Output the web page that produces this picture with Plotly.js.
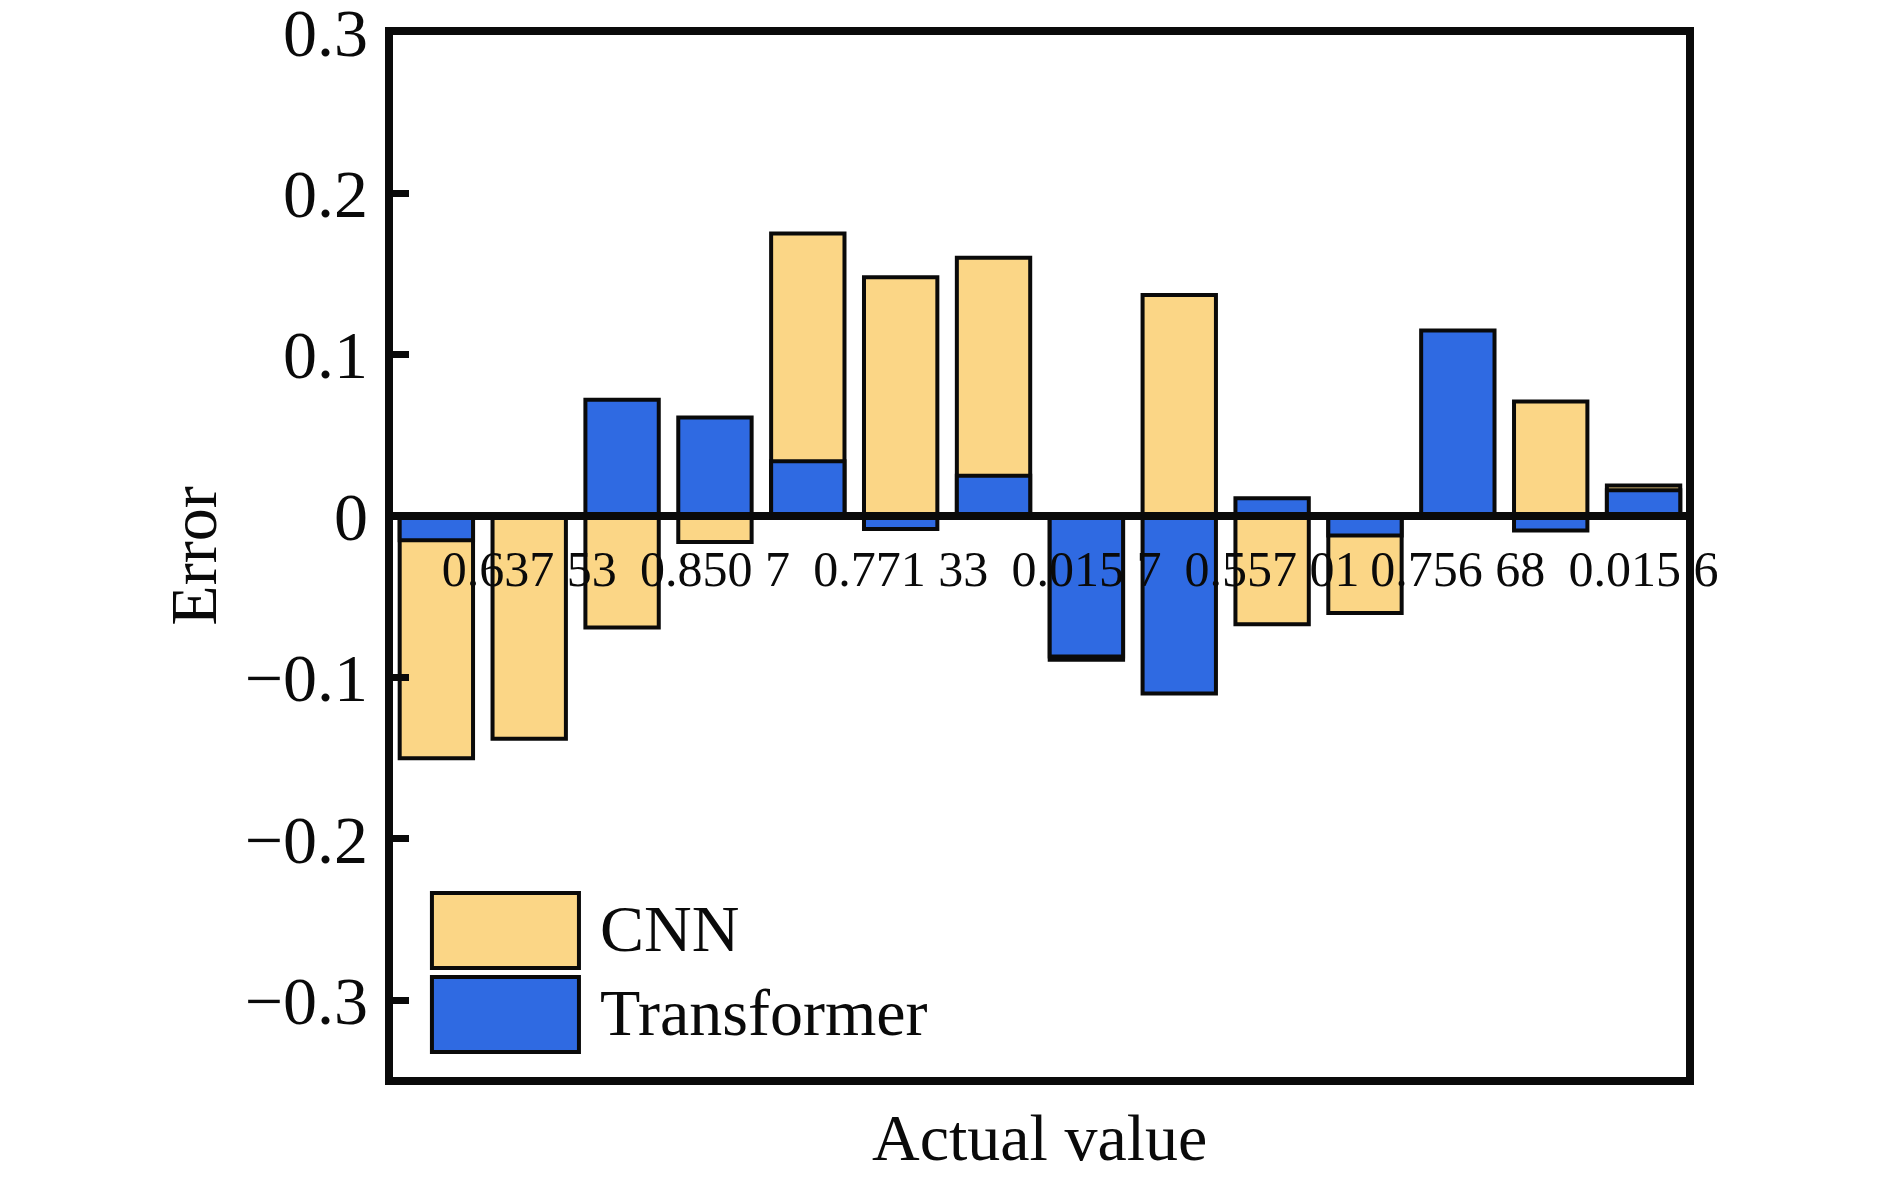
<!DOCTYPE html>
<html>
<head>
<meta charset="utf-8">
<script src="https://cdn.plot.ly/plotly-3.0.1.min.js"></script>
<style>
  html, body { margin: 0; padding: 0; background: #fff; }
  #chart { width: 1890px; height: 1182px; }
</style>
</head>
<body>
<div id="chart"></div>
<script>
// sample index along the x axis
var samples = [1, 2, 3, 4, 5, 6, 7, 8, 9, 10, 11, 12, 13, 14];
// only every other actual value is printed on the axis
var tickLabels = ['', '0.637 53', '', '0.850 7', '', '0.771 33', '', '0.015 7', '', '0.557 01', '', '0.756 68', '', '0.015 6'];

var cnnError = [-0.150, -0.138, -0.069, -0.016, 0.175, 0.148, 0.160, -0.089, 0.137, -0.067, -0.060, 0, 0.071, 0.019];
var transformerError = [-0.015, 0, 0.072, 0.061, 0.034, -0.008, 0.025, -0.087, -0.110, 0.011, -0.012, 0.115, -0.009, 0.016];

var yMin = -0.35, yMax = 0.3;
var serif = '"Liberation Serif", "Times New Roman", serif';
var cnnColor = '#FBD686';
var transColor = '#2F6AE2';

var data = [
    {
        type: 'bar',
        name: 'CNN',
        x: samples,
        y: cnnError,
        marker: { color: cnnColor, line: { color: '#0a0a0a', width: 4 } },
        showlegend: false
    },
    {
        type: 'bar',
        name: 'Transformer',
        x: samples,
        y: transformerError,
        marker: { color: transColor, line: { color: '#0a0a0a', width: 4 } },
        showlegend: false
    }
];

var layout = {
    width: 1890,
    height: 1182,
    margin: { l: 389, r: 200, t: 31, b: 101 },
    paper_bgcolor: '#fff',
    plot_bgcolor: '#fff',
    barmode: 'overlay',
    bargap: 0.21,
    font: { family: serif, color: '#0a0a0a' },
    xaxis: {
        range: [0.49, 14.5],
        anchor: 'free',
        position: -yMin / (yMax - yMin),
        tickmode: 'array',
        tickvals: samples,
        ticktext: tickLabels,
        tickangle: 0,
        ticks: '',
        ticklabelstandoff: 6,
        tickfont: { family: serif, size: 50, color: '#0a0a0a' },
        showline: true,
        linecolor: '#0a0a0a',
        linewidth: 8,
        showgrid: false,
        zeroline: false
    },
    yaxis: {
        // a hair above 0.3 so the top tick label is kept
        range: [yMin, yMax + 0.0005],
        tickvals: [-0.3, -0.2, -0.1, 0, 0.1, 0.2, 0.3],
        ticktext: ['\u22120.3', '\u22120.2', '\u22120.1', '0', '0.1', '0.2', '0.3'],
        ticks: 'inside',
        ticklen: 20,
        tickwidth: 7,
        tickcolor: '#0a0a0a',
        ticklabelstandoff: 20,
        ticklabeloverflow: 'allow',
        tickfont: { family: serif, size: 68, color: '#0a0a0a' },
        showline: false,
        showgrid: false,
        zeroline: false,
        title: { text: 'Error', font: { family: serif, size: 66, color: '#0a0a0a' }, standoff: 6 }
    },
    shapes: [
        // frame
        { type: 'rect', xref: 'paper', yref: 'paper', x0: 0, x1: 1, y0: 0, y1: 1,
          line: { color: '#0a0a0a', width: 8 }, layer: 'above' },
        // legend swatches
        { type: 'rect', xref: 'paper', yref: 'paper', x0: 0.033, x1: 0.146, y0: 0.1076, y1: 0.179,
          fillcolor: cnnColor, line: { color: '#0a0a0a', width: 4 } },
        { type: 'rect', xref: 'paper', yref: 'paper', x0: 0.033, x1: 0.146, y0: 0.0276, y1: 0.099,
          fillcolor: transColor, line: { color: '#0a0a0a', width: 4 } }
    ],
    annotations: [
        { text: 'CNN', xref: 'paper', yref: 'paper', x: 0.1606, y: 0.1455, xanchor: 'left', yanchor: 'middle',
          showarrow: false, font: { family: serif, size: 66, color: '#0a0a0a' } },
        { text: 'Transformer', xref: 'paper', yref: 'paper', x: 0.1606, y: 0.0655, xanchor: 'left', yanchor: 'middle',
          showarrow: false, font: { family: serif, size: 66, color: '#0a0a0a' } },
        // x axis title sits below the frame because the axis itself runs along y = 0
        { text: 'Actual value', xref: 'paper', yref: 'paper', x: 0.5, y: -0.0535, xanchor: 'center', yanchor: 'middle',
          showarrow: false, font: { family: serif, size: 66, color: '#0a0a0a' } }
    ]
};

Plotly.newPlot('chart', data, layout, { displayModeBar: false, staticPlot: true });
</script>
</body>
</html>
